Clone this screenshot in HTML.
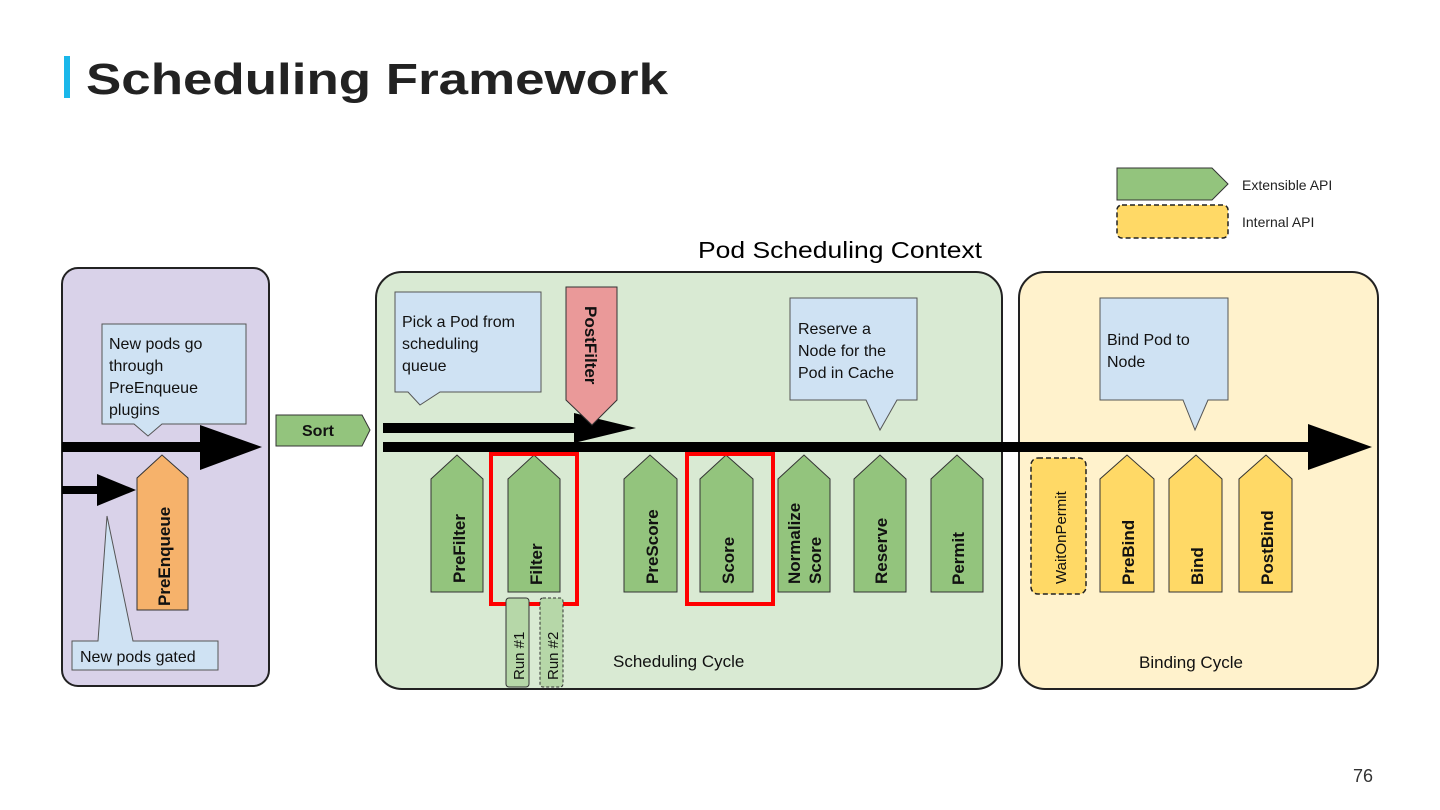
<!DOCTYPE html>
<html><head><meta charset="utf-8"><style>
html,body{margin:0;padding:0;background:#fff;}
svg{display:block;font-family:"Liberation Sans",Arial,sans-serif;}
</style></head><body>
<svg width="1440" height="810" viewBox="0 0 1440 810" xmlns="http://www.w3.org/2000/svg">
<rect x="0" y="0" width="1440" height="810" fill="#fff"/>
<rect x="64" y="56" width="6" height="42" fill="#1ab7ea"/>
<text x="86" y="94" font-size="44" font-weight="bold" fill="#222" textLength="582" lengthAdjust="spacingAndGlyphs">Scheduling Framework</text>
<text x="1353" y="782" font-size="18" fill="#333">76</text>

<path d="M1117,168 L1212,168 L1228,184 L1212,200 L1117,200 Z" fill="#93c47d" stroke="#333" stroke-width="1"/>
<rect x="1117" y="205" width="111" height="33" rx="5" fill="#ffd966" stroke="#222" stroke-width="1.5" stroke-dasharray="5,3"/>
<text x="1242" y="190" font-size="14" fill="#222">Extensible API</text>
<text x="1242" y="227" font-size="14" fill="#222">Internal API</text>

<text x="698" y="258" font-size="23" fill="#000" textLength="284" lengthAdjust="spacingAndGlyphs">Pod Scheduling Context</text>

<rect x="62" y="268" width="207" height="418" rx="16" fill="#d9d2e9" stroke="#222" stroke-width="2"/>
<rect x="376" y="272" width="626" height="417" rx="26" fill="#d9ead3" stroke="#222" stroke-width="2"/>
<rect x="1019" y="272" width="359" height="417" rx="26" fill="#fff2cc" stroke="#222" stroke-width="2"/>

<path d="M102,324 L246,324 L246,424 L162,424 L148,436 L134,424 L102,424 Z" fill="#cfe2f3" stroke="#555" stroke-width="1"/>
<text font-size="16" fill="#111"><tspan x="109" y="349">New pods go</tspan><tspan x="109" y="371">through</tspan><tspan x="109" y="393">PreEnqueue</tspan><tspan x="109" y="415">plugins</tspan></text>
<rect x="62" y="442" width="142" height="10" fill="#000"/>
<path d="M200,425 L262,447 L200,470 Z" fill="#000"/>
<rect x="62" y="486" width="40" height="8" fill="#000"/>
<path d="M97,474 L136,490 L97,506 Z" fill="#000"/>
<path d="M137,610 L137,478 L162,455 L188,478 L188,610 Z" fill="#f6b26b" stroke="#333" stroke-width="1"/>
<text transform="translate(170,606) rotate(-90)" font-size="17" font-weight="bold" fill="#111">PreEnqueue</text>
<path d="M72,641 L98,641 L107,516 L133,641 L218,641 L218,670 L72,670 Z" fill="#cfe2f3" stroke="#555" stroke-width="1"/>
<text x="80" y="662" font-size="16" fill="#111">New pods gated</text>

<path d="M276,415 L362,415 L370,430 L362,446 L276,446 Z" fill="#93c47d" stroke="#333" stroke-width="1"/>
<text x="302" y="436" font-size="16" font-weight="bold" fill="#111">Sort</text>

<path d="M395,292 L541,292 L541,392 L440,392 L420,405 L408,392 L395,392 Z" fill="#cfe2f3" stroke="#555" stroke-width="1"/>
<text font-size="16" fill="#111"><tspan x="402" y="327">Pick a Pod from</tspan><tspan x="402" y="349">scheduling</tspan><tspan x="402" y="371">queue</tspan></text>
<rect x="383" y="423" width="195" height="10" fill="#000"/>
<path d="M574,413 L636,428 L574,443 Z" fill="#000"/>
<path d="M566,287 L617,287 L617,400 L592,425 L566,400 Z" fill="#ea9999" stroke="#333" stroke-width="1"/>
<text transform="translate(585,306) rotate(90)" font-size="17" font-weight="bold" fill="#111">PostFilter</text>
<rect x="383" y="442" width="930" height="10" fill="#000"/>
<path d="M1308,424 L1372,447 L1308,470 Z" fill="#000"/>

<path d="M790,298 L917,298 L917,400 L897,400 L880,430 L866,400 L790,400 Z" fill="#cfe2f3" stroke="#555" stroke-width="1"/>
<text font-size="16" fill="#111"><tspan x="798" y="334">Reserve a</tspan><tspan x="798" y="356">Node for the</tspan><tspan x="798" y="378">Pod in Cache</tspan></text>

<g fill="#93c47d" stroke="#333" stroke-width="1">
<path d="M431,592 L431,479 L457,455 L483,479 L483,592 Z"/>
<path d="M508,592 L508,479 L534,455 L560,479 L560,592 Z"/>
<path d="M624,592 L624,479 L650,455 L677,479 L677,592 Z"/>
<path d="M700,592 L700,479 L726,455 L753,479 L753,592 Z"/>
<path d="M778,592 L778,479 L804,455 L830,479 L830,592 Z"/>
<path d="M854,592 L854,479 L880,455 L906,479 L906,592 Z"/>
<path d="M931,592 L931,479 L957,455 L983,479 L983,592 Z"/>
</g>
<g font-size="17" font-weight="bold" fill="#111">
<text transform="translate(465,583) rotate(-90)">PreFilter</text>
<text transform="translate(542,585) rotate(-90)">Filter</text>
<text transform="translate(658,584) rotate(-90)">PreScore</text>
<text transform="translate(734,584) rotate(-90)">Score</text>
<text transform="translate(800,584) rotate(-90)">Normalize</text>
<text transform="translate(821,584) rotate(-90)">Score</text>
<text transform="translate(887,584) rotate(-90)">Reserve</text>
<text transform="translate(964,585) rotate(-90)">Permit</text>
</g>
<rect x="491" y="454" width="86" height="150" fill="none" stroke="#f00" stroke-width="4"/>
<rect x="687" y="454" width="86" height="150" fill="none" stroke="#f00" stroke-width="4"/>
<rect x="506" y="598" width="23" height="89" rx="3" fill="#b6d7a8" stroke="#333" stroke-width="1"/>
<rect x="540" y="598" width="23" height="89" rx="3" fill="#b6d7a8" stroke="#333" stroke-width="1" stroke-dasharray="3,2"/>
<text transform="translate(524,680) rotate(-90)" font-size="15" fill="#111">Run #1</text>
<text transform="translate(558,680) rotate(-90)" font-size="15" fill="#111">Run #2</text>
<text x="613" y="667" font-size="17" fill="#111">Scheduling Cycle</text>

<path d="M1100,298 L1228,298 L1228,400 L1208,400 L1195,430 L1183,400 L1100,400 Z" fill="#cfe2f3" stroke="#555" stroke-width="1"/>
<text font-size="16" fill="#111"><tspan x="1107" y="345">Bind Pod to</tspan><tspan x="1107" y="367">Node</tspan></text>
<rect x="1031" y="458" width="55" height="136" rx="7" fill="#ffd966" stroke="#222" stroke-width="1.5" stroke-dasharray="5,3"/>
<text transform="translate(1066,584) rotate(-90)" font-size="15" fill="#111">WaitOnPermit</text>
<g fill="#ffd966" stroke="#333" stroke-width="1">
<path d="M1100,592 L1100,479 L1127,455 L1154,479 L1154,592 Z"/>
<path d="M1169,592 L1169,479 L1196,455 L1222,479 L1222,592 Z"/>
<path d="M1239,592 L1239,479 L1266,455 L1292,479 L1292,592 Z"/>
</g>
<g font-size="17" font-weight="bold" fill="#111">
<text transform="translate(1134,585) rotate(-90)">PreBind</text>
<text transform="translate(1203,585) rotate(-90)">Bind</text>
<text transform="translate(1273,585) rotate(-90)">PostBind</text>
</g>
<text x="1139" y="668" font-size="17" fill="#111">Binding Cycle</text>
</svg>
</body></html>
